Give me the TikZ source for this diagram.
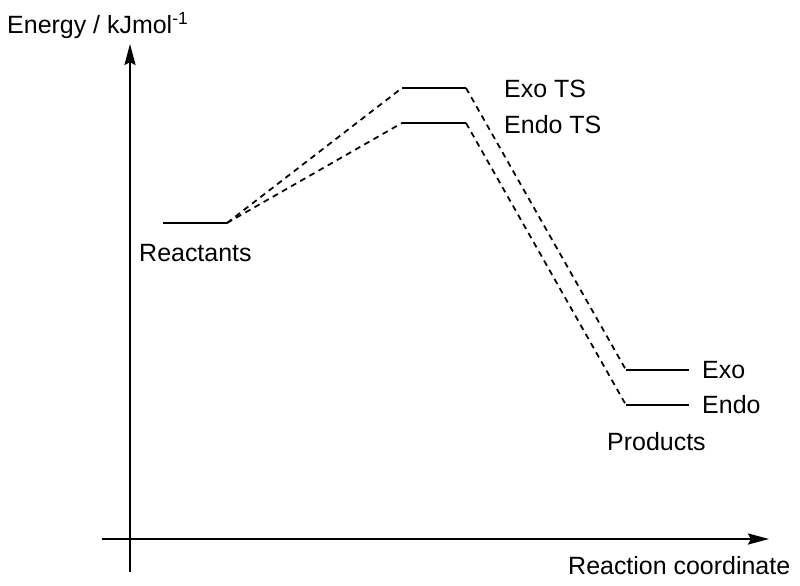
\documentclass[tikz,border=0pt]{standalone}
\usepackage{fontspec}
\setmainfont{Liberation Sans}
\usetikzlibrary{arrows.meta}
\tikzset{
	axis/.style={line width=1.6pt, -{Stealth[length=18pt, width=9.5pt, inset=2.5pt]}},
	level/.style={line width=1.5pt},
	route/.style={line width=1.5pt, dash pattern=on 5pt off 4pt},
	lbl/.style={anchor=base west, inner sep=0pt, font=\fontsize{21.3}{25}\selectfont}
}

\begin{document}
\begin{tikzpicture}[x=0.03cm, y=-0.03cm]
		%%%%% START %%%%%
		\useasboundingbox (0, 0) rectangle (800, 586);
		
		% axes
		\coordinate (ybot) at (130, 572);
		\coordinate (ytop) at (130, 44);
		\coordinate (xleft) at (102, 539);
		\coordinate (xright) at (769, 539);
		\draw[axis] (ybot) -- (ytop);
		\draw[axis] (xleft) -- (xright);
		\node[lbl] (energy) at (7, 33) {Energy / kJmol\textsuperscript{-1}};
		\node[lbl] (coord) at (568, 574) {Reaction coordinate};
		
		% levels
		\coordinate (reacA) at (163, 223);
		\coordinate (reacB) at (227, 223);
		\coordinate (exotsA) at (402, 88);
		\coordinate (exotsB) at (466, 88);
		\coordinate (endotsA) at (402, 123);
		\coordinate (endotsB) at (466, 123);
		\coordinate (exoA) at (626, 370);
		\coordinate (exoB) at (689, 370);
		\coordinate (endoA) at (626, 405);
		\coordinate (endoB) at (689, 405);
		
		\draw[level] (reacA) -- (reacB);
		\draw[level] (exotsA) -- (exotsB);
		\draw[level] (endotsA) -- (endotsB);
		\draw[level] (exoA) -- (exoB);
		\draw[level] (endoA) -- (endoB);
		
		% dashed paths
		\draw[route] (reacB) -- (exotsA);
		\draw[route] (reacB) -- (endotsA);
		\draw[route] (exotsB) -- (exoA);
		\draw[route] (endotsB) -- (endoA);
		
		\node[lbl] (reactants) at (139, 261) {Reactants};
		\node[lbl] (exots) at (504, 97) {Exo TS};
		\node[lbl] (endots) at (504, 133) {Endo TS};
		\node[lbl] (exo) at (702, 378) {Exo};
		\node[lbl] (endo) at (702, 413) {Endo};
		\node[lbl] (products) at (607, 450) {Products};
		
		%%%%% END %%%%%
	\end{tikzpicture}
\end{document}
